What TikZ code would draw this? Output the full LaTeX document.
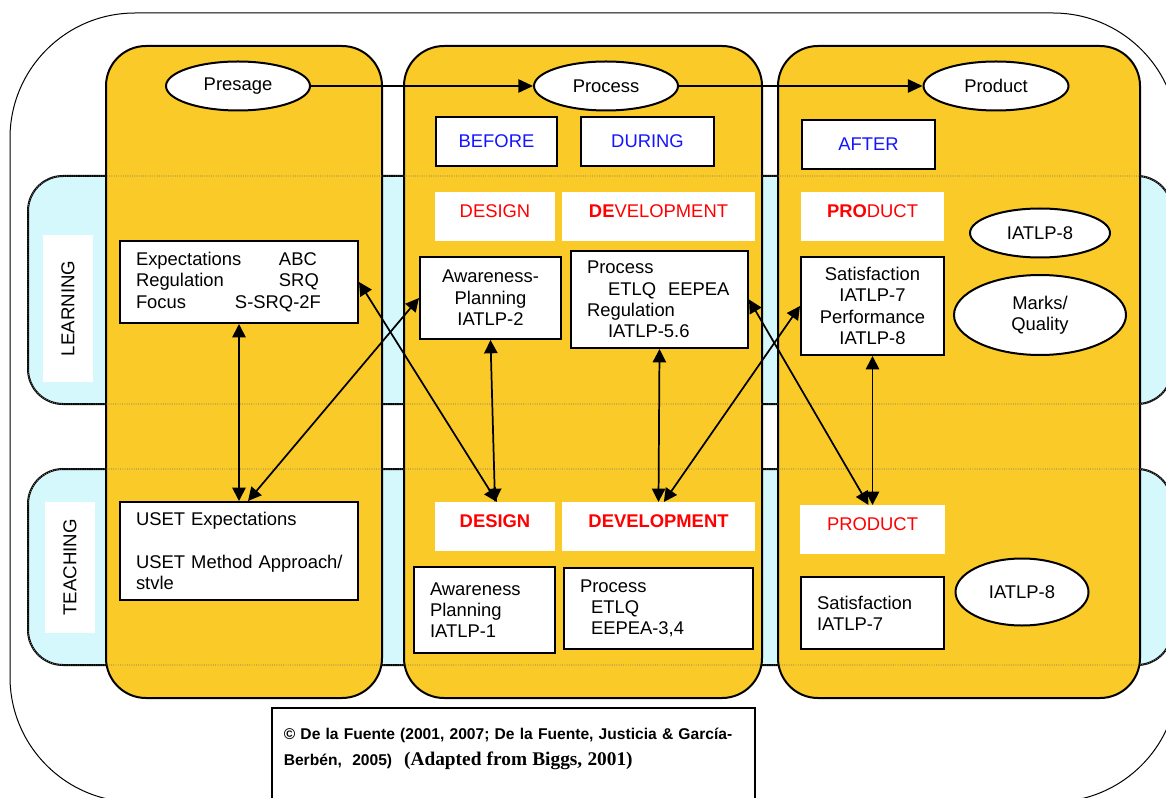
\documentclass[tikz,border=0pt]{standalone}
\usepackage{fontspec}
\setmainfont{Liberation Sans}
\newfontfamily\citeserif{Liberation Serif}
\usetikzlibrary{shapes.geometric,arrows.meta}
\definecolor{gold}{HTML}{FACB28}
\definecolor{lblue}{HTML}{D4F8FC}
\definecolor{tblue}{HTML}{1414FF}
\definecolor{tred}{HTML}{FF0000}
\begin{document}
\begin{tikzpicture}[x=0.75pt,y=-0.75pt,
  font=\fontsize{13.8}{16}\selectfont,
  box/.style={draw, line width=1.5pt, fill=white, inner sep=0pt},
  lbox/.style={box, align=left, inner xsep=12pt},
  cbox/.style={box, align=center},
  ell/.style={ellipse, draw, line width=1.5pt, fill=white, inner sep=0pt},
  lbl/.style={fill=white, inner xsep=0pt, inner ysep=0pt, text height=18.75pt, text depth=18pt, text=tred, anchor=north},
  side/.style={fill=white, rotate=90, inner sep=0pt, minimum height=37.5pt, font=\fontsize{14}{16}\selectfont},
  col/.style={draw, line width=1.5pt, fill=gold, rounded corners=30pt},
  row/.style={draw, line width=1.5pt, fill=lblue, rounded corners=26.25pt},
  rowdot/.style={densely dotted, black!55, line width=0.7pt, rounded corners=26.25pt},
  arr/.style={line width=1.3pt, {Triangle[length=10pt,width=10pt]}-{Triangle[length=10pt,width=10pt]}},
  tarr/.style={line width=1.3pt, -{Triangle[length=11pt,width=10pt]}}]
\useasboundingbox (0,0) rectangle (1166,798);
\clip (0,0) rectangle (1166,798);
% outer frame
\draw[line width=0.75pt, rounded corners=93.75pt] (10,13) rectangle (1178,802);
% rows
\draw[row] (28,176) rectangle (1172,404);
\draw[row] (28,469) rectangle (1172,665);
% columns
\draw[col] (106,46) rectangle (382,698);
\draw[col] (404,46) rectangle (762,698);
\draw[col] (778,46) rectangle (1140,698);
% row borders showing through the columns
\draw[rowdot] (28,176) rectangle (1172,404);
\draw[rowdot] (28,469) rectangle (1172,665);
% side labels
\node[side, minimum width=110.25pt] (learnlbl) at (68,308.5) {LEARNING};
\node[side, minimum width=98.25pt] (teachlbl) at (70,567.5) {TEACHING};
% top ellipses
\node[ell, minimum width=108pt, minimum height=36.75pt] (pres) at (238,86) {Presage};
\node[ell, minimum width=108pt, minimum height=36.75pt] (proc) at (606,86) {Process};
\node[ell, minimum width=108.75pt, minimum height=36.75pt] (prod) at (996,86) {Product};
\draw[tarr] (pres) -- (proc);
\draw[tarr] (proc) -- (prod);
% phase boxes
\node[cbox, text=tblue, minimum width=90.75pt, minimum height=36.75pt] (before) at (496.5,141.5) {BEFORE};
\node[cbox, text=tblue, minimum width=99.75pt, minimum height=36.75pt] (during) at (647.5,141.5) {DURING};
\node[cbox, text=tblue, minimum width=99.75pt, minimum height=36.75pt] (after) at (868.5,144.5) {AFTER};
% learning labels
\node[lbl, minimum width=90pt] (dsgL) at (495,192) {DESIGN};
\node[lbl, minimum width=144.75pt] (devL) at (658.5,192) {\textbf{DE}VELOPMENT};
\node[lbl, minimum width=107.25pt] (prdL) at (872.5,192) {\textbf{PRO}DUCT};
% teaching labels
\node[lbl, minimum width=90pt] (dsgT) at (495,502) {\textbf{DESIGN}};
\node[lbl, minimum width=144.75pt] (devT) at (658.5,502) {\textbf{DEVELOPMENT}};
\node[lbl, minimum width=108.75pt] (prdT) at (872.5,505) {PRODUCT};
% learning boxes
\node[lbox, text width=154.5pt, minimum height=61.5pt] (L1) at (239,282)
  {\makebox[107.25pt][l]{Expectations}ABC\\\makebox[107.25pt][l]{Regulation}SRQ\\\makebox[74.25pt][l]{Focus}S-SRQ-2F};
\node[cbox, minimum width=105.75pt, minimum height=61.5pt] (L2) at (490.5,298)
  {Awareness-\\Planning\\IATLP-2};
\node[lbox, text width=108.75pt, minimum height=72.75pt] (L3) at (659.5,299.5)
  {Process\\\hspace*{15.75pt}ETLQ\hspace{9pt}EEPEA\\Regulation\\\hspace*{15.75pt}IATLP-5.6};
\node[cbox, minimum width=107.25pt, minimum height=73.5pt] (L4) at (872.5,306)
  {Satisfaction\\IATLP-7\\Performance\\IATLP-8};
\node[ell, minimum width=105pt, minimum height=36.75pt] (ia8L) at (1040,233) {IATLP-8};
\node[ell, minimum width=129pt, minimum height=60pt, align=center] (marks) at (1040,315) {Marks/\\Quality};
% teaching boxes
\node[lbox, text width=154.5pt, minimum height=73.5pt] (T1) at (239,551)
  {\mbox{USET Expectations}\\[16pt]\mbox{USET Method Approach/}\\\mbox{stvle}};
\node[lbox, text width=81.75pt, minimum height=64.5pt] (T2) at (484.5,610)
  {Awareness\\Planning\\IATLP-1};
\node[lbox, text width=117.75pt, minimum height=60.75pt] (T3) at (658.5,608.5)
  {Process\\\hspace*{8.25pt}ETLQ\\\hspace*{8.25pt}EEPEA-3,4};
\node[lbox, text width=83.25pt, minimum height=54pt] (T4) at (872.5,613)
  {Satisfaction\\IATLP-7};
\node[ell, minimum width=99.75pt, minimum height=50.25pt] (ia8T) at (1022,592) {IATLP-8};
% connectors
\draw[arr] (L1.south) -- (T1.north);
\draw[arr] (L1.east) -- ([xshift=1.5pt]dsgT.north);
\draw[arr] ([xshift=6.75pt]T1.north) -- (L2.west);
\draw[arr] (L2.south) -- (dsgT.north);
\draw[arr] (L3.south) -- (devT.north);
\draw[arr] (L3.east) -- ([xshift=-3pt]prdT.north);
\draw[arr] ([xshift=4pt]devT.north) -- (L4.west);
\draw[arr] (L4.south) -- (prdT.north);
% citation
\node[draw, line width=1.2pt, fill=white, anchor=north west, inner xsep=9pt, inner ysep=15pt,
  text width=344.25pt, align=left, font=\bfseries\fontsize{11.7}{20}\selectfont] (cite) at (271,707)
  {\mbox{© De la Fuente (2001, 2007; De la Fuente, Justicia \& García-}\\\mbox{Berbén,\ \ 2005)\hspace{9pt}{\citeserif\fontsize{14.5}{20}\selectfont (Adapted from Biggs, 2001)}}\\[40pt]\mbox{}};
\end{tikzpicture}
\end{document}
